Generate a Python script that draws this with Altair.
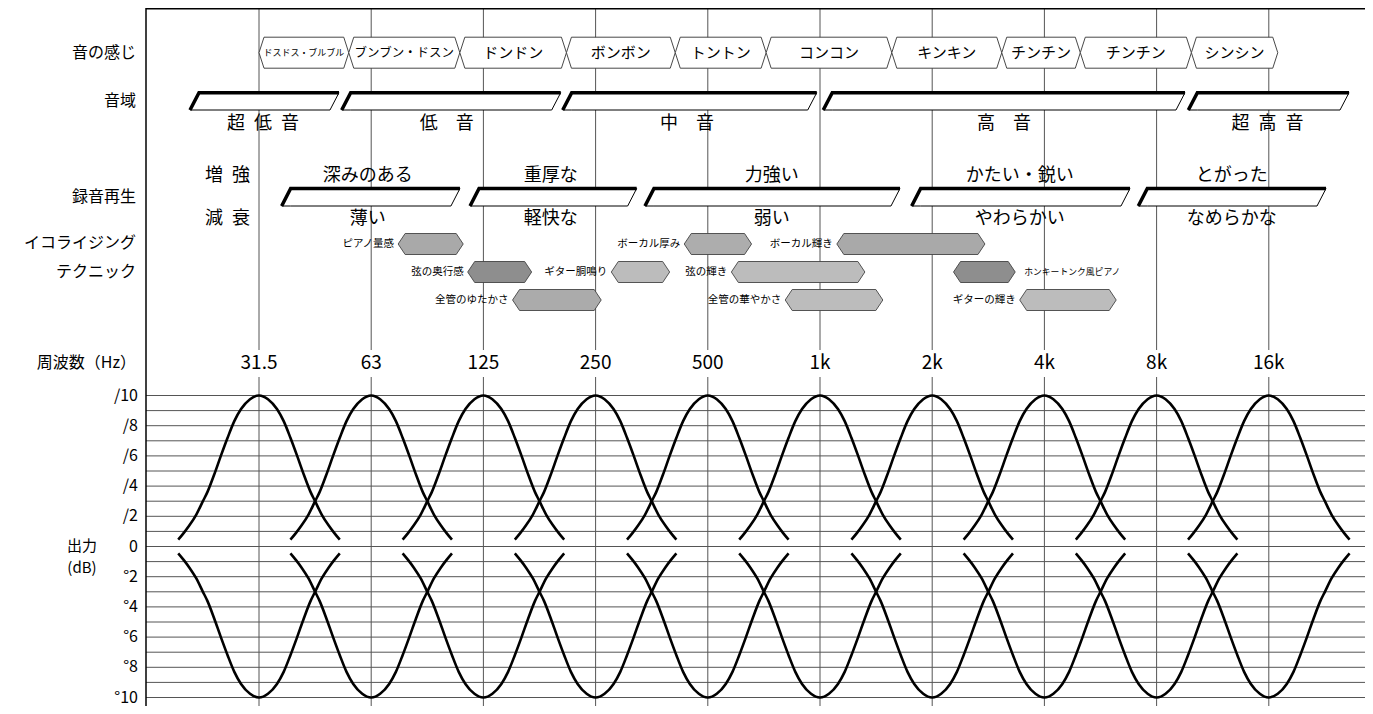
import altair as alt
import pandas as pd

FONT = "Noto Sans CJK JP"

# ---------------- data ----------------
# frequency bands: position = octave index (31.5 Hz = 0)
FREQ_LABELS = ["31.5", "63", "125", "250", "500", "1k", "2k", "4k", "8k", "16k"]
FREQ_POS = [0, 1, 2, 3, 4, 5, 6, 7, 8, 9]

# 音の感じ (boundaries in octave index)
FEEL_NAMES = ["ドスドス・ブルブル", "ブンブン・ドスン", "ドンドン", "ボンボン", "トントン",
              "コンコン", "キンキン", "チンチン", "チンチン", "シンシン"]
FEEL_EDGES = [0.0, 0.80, 1.79, 2.74, 3.71, 4.52, 5.64, 6.62, 7.32, 8.31, 9.08]

# 音域
RANGE_NAMES = ["超\u2002低\u2002音", "低\u3000音", "中\u3000音", "高\u3000音", "超\u2002高\u2002音"]
RANGE_LEFT = [-0.615, 0.737, 2.707, 5.029, 8.283]
RANGE_RIGHT = [0.713, 2.689, 4.971, 8.253, 9.715]
RANGE_LABEL_POS = [0.036, 1.673, 3.815, 6.640, 8.988]

# 録音再生
REC_UP_NAMES = ["深みのある", "重厚な", "力強い", "かたい・鋭い", "とがった"]
REC_DOWN_NAMES = ["薄い", "軽快な", "弱い", "やわらかい", "なめらかな"]
REC_LEFT = [0.202, 1.881, 3.440, 5.817, 7.837]
REC_RIGHT = [1.791, 3.366, 5.713, 7.763, 9.510]
REC_LABEL_POS = [0.97, 2.60, 4.57, 6.78, 8.67]
REC_SIDE_NAMES = ["増\u2002強", "減\u2002衰"]
REC_SIDE_POS = -0.281

# イコライジング テクニック
EQ_NAMES = ["ピアノ量感", "弦の奥行感", "ギター胴鳴り", "全管のゆたかさ", "ボーカル厚み",
            "ボーカル輝き", "弦の輝き", "全管の華やかさ", "ホンキートンク風ピアノ", "ギターの輝き"]
EQ_START = [1.24, 1.86, 3.14, 2.26, 3.79, 5.15, 4.21, 4.69, 6.19, 6.78]
EQ_END = [1.82, 2.43, 3.66, 3.05, 4.39, 6.47, 5.40, 5.56, 6.74, 7.64]
EQ_ROW = [0, 1, 1, 2, 0, 0, 1, 2, 1, 2]

# output curves: one band shape (octave offset -> dB)
PROFILE_OCT = [0.00, 0.08, 0.16, 0.22, 0.28, 0.34, 0.40, 0.46, 0.50, 0.56, 0.62, 0.67, 0.72]
PROFILE_DB = [10.0, 9.75, 9.1, 8.3, 7.2, 6.0, 4.75, 3.6, 3.0, 2.1, 1.4, 0.9, 0.45]

GRID_DB = list(range(-10, 11))
Y_TICKS = [10, 8, 6, 4, 2, 0, -2, -4, -6, -8, -10]
Y_TICK_LABELS = ["/10", "/8", "/6", "/4", "/2", "0", "°2", "°4", "°6", "°8", "°10"]

ROW_LABELS = ["音の感じ", "音域", "録音再生", "イコライジング", "テクニック", "周波数（Hz）"]
OUT_LABELS = ["出力", "(dB)"]

# ---------------- layout (pixels -> scale units) ----------------
W, H = 1219, 698
PAGE_LEFT, PAGE_TOP = 146, 8
OCT_PX, X0_PAGE = 112.2, 259.0
DB_PX, ZERO_PAGE = 15.1, 546.5


def yv(page_y):
    return (ZERO_PAGE - page_y) / DB_PX


X_DOMAIN = [(PAGE_LEFT - X0_PAGE) / OCT_PX, (PAGE_LEFT + W - X0_PAGE) / OCT_PX]
Y_DOMAIN = [yv(PAGE_TOP + H), yv(PAGE_TOP)]

FEEL_Y, FEEL_HALF, FEEL_TIP = yv(52.7), 15.5 / DB_PX, 5 / OCT_PX
RANGE_TOP, RANGE_BOT, RANGE_LBL = yv(92.7), yv(110), yv(124)
REC_TOP, REC_BOT, REC_UP_LBL, REC_DN_LBL = yv(188.5), yv(206), yv(176), yv(219)
SLANT = 9 / OCT_PX
EQ_ROWS_Y = [yv(244), yv(272), yv(300)]
EQ_HALF, EQ_TIP = 10.5 / DB_PX, 7 / OCT_PX
FREQ_LBL_Y = yv(363)
ROW_LABEL_Y = [yv(52.7), yv(101), yv(197), yv(243), yv(272), yv(363)]
OUT_LABEL_Y = [yv(546), yv(568)]

EQ_SHADE = {"弦の奥行感": "#8e8e8e", "ホンキートンク風ピアノ": "#8e8e8e", "ピアノ量感": "#a9a9a9",
            "全管のゆたかさ": "#ababab", "ボーカル厚み": "#adadad", "ボーカル輝き": "#a9a9a9"}
EQ_LABEL_RIGHT = {"ホンキートンク風ピアノ"}

Xs = alt.Scale(domain=X_DOMAIN, nice=False, zero=False)
Ys = alt.Scale(domain=Y_DOMAIN, nice=False, zero=False)


def X(f="x"):
    return alt.X(f"{f}:Q", scale=Xs, axis=None)


def Y(f="y"):
    return alt.Y(f"{f}:Q", scale=Ys, axis=None)


def hexagon(key, x0, x1, yc, half, tip):
    return [dict(id=key, x=x0, y=yc, y2=yc),
            dict(id=key, x=x0 + tip, y=yc + half, y2=yc - half),
            dict(id=key, x=x1 - tip, y=yc + half, y2=yc - half),
            dict(id=key, x=x1, y=yc, y2=yc)]


def parallelogram(key, bl, tr, top, bot, s):
    return [dict(id=key, x=bl, y=bot, y2=bot),
            dict(id=key, x=bl + s, y=top, y2=bot),
            dict(id=key, x=tr - s, y=top, y2=bot),
            dict(id=key, x=tr, y=top, y2=top)]


one = pd.DataFrame({"a": [0]})
layers = []

# horizontal grid
layers.append(alt.Chart(pd.DataFrame({"y": GRID_DB})).mark_rule(color="#555", strokeWidth=1)
              .encode(y=Y(), x=alt.value(0), x2=alt.value(W)))

# vertical frequency lines (interrupted at the frequency labels)
vrows = []
for p in FREQ_POS:
    vrows.append(dict(x=p, y=Y_DOMAIN[1], y2=yv(350)))
    vrows.append(dict(x=p, y=yv(377), y2=Y_DOMAIN[0]))
layers.append(alt.Chart(pd.DataFrame(vrows)).mark_rule(color="#555", strokeWidth=1)
              .encode(x=X(), y=Y(), y2=alt.Y2("y2:Q")))

# frame
layers.append(alt.Chart(one).mark_rule(color="black", strokeWidth=1.5)
              .encode(x=alt.value(0), y=alt.value(0), y2=alt.value(H)))
layers.append(alt.Chart(one).mark_rule(color="black", strokeWidth=1.5)
              .encode(x=alt.value(0), x2=alt.value(W), y=alt.value(0.75)))

# curves
full_off = [-o for o in PROFILE_OCT[::-1]] + PROFILE_OCT[1:]
full_db = PROFILE_DB[::-1] + PROFILE_DB[1:]
crow = []
for p in FREQ_POS:
    for sgn in (1, -1):
        for o, d in zip(full_off, full_db):
            crow.append(dict(id=f"{p}_{sgn}", x=p + o, y=sgn * d))
layers.append(alt.Chart(pd.DataFrame(crow))
              .mark_line(color="black", strokeWidth=2.6, interpolate="monotone")
              .encode(x=X(), y=Y(), detail="id:N"))

# 音の感じ boxes
frows, ftext = [], []
for i, n in enumerate(FEEL_NAMES):
    x0, x1 = FEEL_EDGES[i], FEEL_EDGES[i + 1]
    frows += hexagon(f"f{i}", x0, x1, FEEL_Y, FEEL_HALF, FEEL_TIP)
    fs = min(15.0, 0.9 * (x1 - x0) * OCT_PX / len(n))
    ftext.append(dict(x=(x0 + x1) / 2, y=FEEL_Y, t=n, fs=fs))
layers.append(alt.Chart(pd.DataFrame(frows))
              .mark_area(orient="vertical", fill="white", stroke="#333", strokeWidth=0.9)
              .encode(x=X(), y=Y(), y2=alt.Y2("y2:Q"), detail="id:N"))
layers.append(alt.Chart(pd.DataFrame(ftext))
              .mark_text(font=FONT, baseline="middle", align="center", color="black")
              .encode(x=X(), y=Y(), text="t:N", size=alt.Size("fs:Q", scale=None, legend=None)))

# parallelogram rows (音域, 録音再生)
prow, srow = [], []
for i in range(len(RANGE_NAMES)):
    prow += parallelogram(f"r{i}", RANGE_LEFT[i], RANGE_RIGHT[i], RANGE_TOP, RANGE_BOT, SLANT)
    srow += [dict(id=f"r{i}", x=RANGE_LEFT[i], y=RANGE_BOT),
             dict(id=f"r{i}", x=RANGE_LEFT[i] + SLANT, y=RANGE_TOP),
             dict(id=f"r{i}", x=RANGE_RIGHT[i], y=RANGE_TOP)]
for i in range(len(REC_UP_NAMES)):
    prow += parallelogram(f"c{i}", REC_LEFT[i], REC_RIGHT[i], REC_TOP, REC_BOT, SLANT)
    srow += [dict(id=f"c{i}", x=REC_LEFT[i], y=REC_BOT),
             dict(id=f"c{i}", x=REC_LEFT[i] + SLANT, y=REC_TOP),
             dict(id=f"c{i}", x=REC_RIGHT[i], y=REC_TOP)]
layers.append(alt.Chart(pd.DataFrame(prow))
              .mark_area(orient="vertical", fill="white", stroke="black", strokeWidth=1)
              .encode(x=X(), y=Y(), y2=alt.Y2("y2:Q"), detail="id:N"))
layers.append(alt.Chart(pd.DataFrame(srow))
              .mark_line(color="black", strokeWidth=3.5, strokeJoin="miter")
              .encode(x=X(), y=Y(), detail="id:N"))

big_text = []
for n, p in zip(RANGE_NAMES, RANGE_LABEL_POS):
    big_text.append(dict(x=p, y=RANGE_LBL, t=n))
for n, p in zip(REC_UP_NAMES, REC_LABEL_POS):
    big_text.append(dict(x=p, y=REC_UP_LBL, t=n))
for n, p in zip(REC_DOWN_NAMES, REC_LABEL_POS):
    big_text.append(dict(x=p, y=REC_DN_LBL, t=n))
big_text.append(dict(x=REC_SIDE_POS, y=REC_UP_LBL, t=REC_SIDE_NAMES[0]))
big_text.append(dict(x=REC_SIDE_POS, y=REC_DN_LBL, t=REC_SIDE_NAMES[1]))
layers.append(alt.Chart(pd.DataFrame(big_text))
              .mark_text(font=FONT, fontSize=18, baseline="middle", align="center", color="black")
              .encode(x=X(), y=Y(), text="t:N"))

# EQ hexagons
erows, eleft, eright = [], [], []
for i, n in enumerate(EQ_NAMES):
    yc = EQ_ROWS_Y[EQ_ROW[i]]
    for r in hexagon(f"e{i}", EQ_START[i], EQ_END[i], yc, EQ_HALF, EQ_TIP):
        r["fill"] = EQ_SHADE.get(n, "#bcbcbc")
        erows.append(r)
    fs = 10.5 if len(n) <= 8 else 8.8
    if n in EQ_LABEL_RIGHT:
        eright.append(dict(x=EQ_END[i], y=yc, t=n, fs=fs))
    else:
        eleft.append(dict(x=EQ_START[i], y=yc, t=n, fs=fs))
layers.append(alt.Chart(pd.DataFrame(erows))
              .mark_area(orient="vertical", stroke="#444", strokeWidth=0.9)
              .encode(x=X(), y=Y(), y2=alt.Y2("y2:Q"), detail="id:N",
                      color=alt.Color("fill:N", scale=None, legend=None)))
layers.append(alt.Chart(pd.DataFrame(eleft))
              .mark_text(font=FONT, baseline="middle", align="right", dx=-4, color="black")
              .encode(x=X(), y=Y(), text="t:N", size=alt.Size("fs:Q", scale=None, legend=None)))
layers.append(alt.Chart(pd.DataFrame(eright))
              .mark_text(font=FONT, baseline="middle", align="left", dx=9, color="black")
              .encode(x=X(), y=Y(), text="t:N", size=alt.Size("fs:Q", scale=None, legend=None)))

# frequency labels
layers.append(alt.Chart(pd.DataFrame({"x": FREQ_POS, "t": FREQ_LABELS, "y": [FREQ_LBL_Y] * 10}))
              .mark_text(font=FONT, fontSize=19, baseline="middle", align="center", color="black")
              .encode(x=X(), y=Y(), text="t:N"))

# left row labels
layers.append(alt.Chart(pd.DataFrame({"t": ROW_LABELS, "y": ROW_LABEL_Y}))
              .mark_text(font=FONT, fontSize=16, baseline="middle", align="right", color="black")
              .encode(x=alt.value(-10), y=Y(), text="t:N"))

# y tick labels
layers.append(alt.Chart(pd.DataFrame({"y": Y_TICKS, "t": Y_TICK_LABELS}))
              .mark_text(font=FONT, fontSize=16, baseline="middle", align="right", color="black")
              .encode(x=alt.value(-8), y=Y(), text="t:N"))

# 出力 (dB)
layers.append(alt.Chart(pd.DataFrame({"t": OUT_LABELS, "y": OUT_LABEL_Y}))
              .mark_text(font=FONT, fontSize=15, baseline="middle", align="center", color="black")
              .encode(x=alt.value(-64), y=Y(), text="t:N"))

chart = (alt.layer(*layers)
         .properties(width=W, height=H, background="white",
                     padding={"left": PAGE_LEFT - 8, "top": 0, "right": 0, "bottom": 0},
                     autosize=alt.AutoSizeParams(type="none"))
         .configure_view(stroke=None))

chart.save("out.html", embed_options={"renderer": "svg", "actions": False})
